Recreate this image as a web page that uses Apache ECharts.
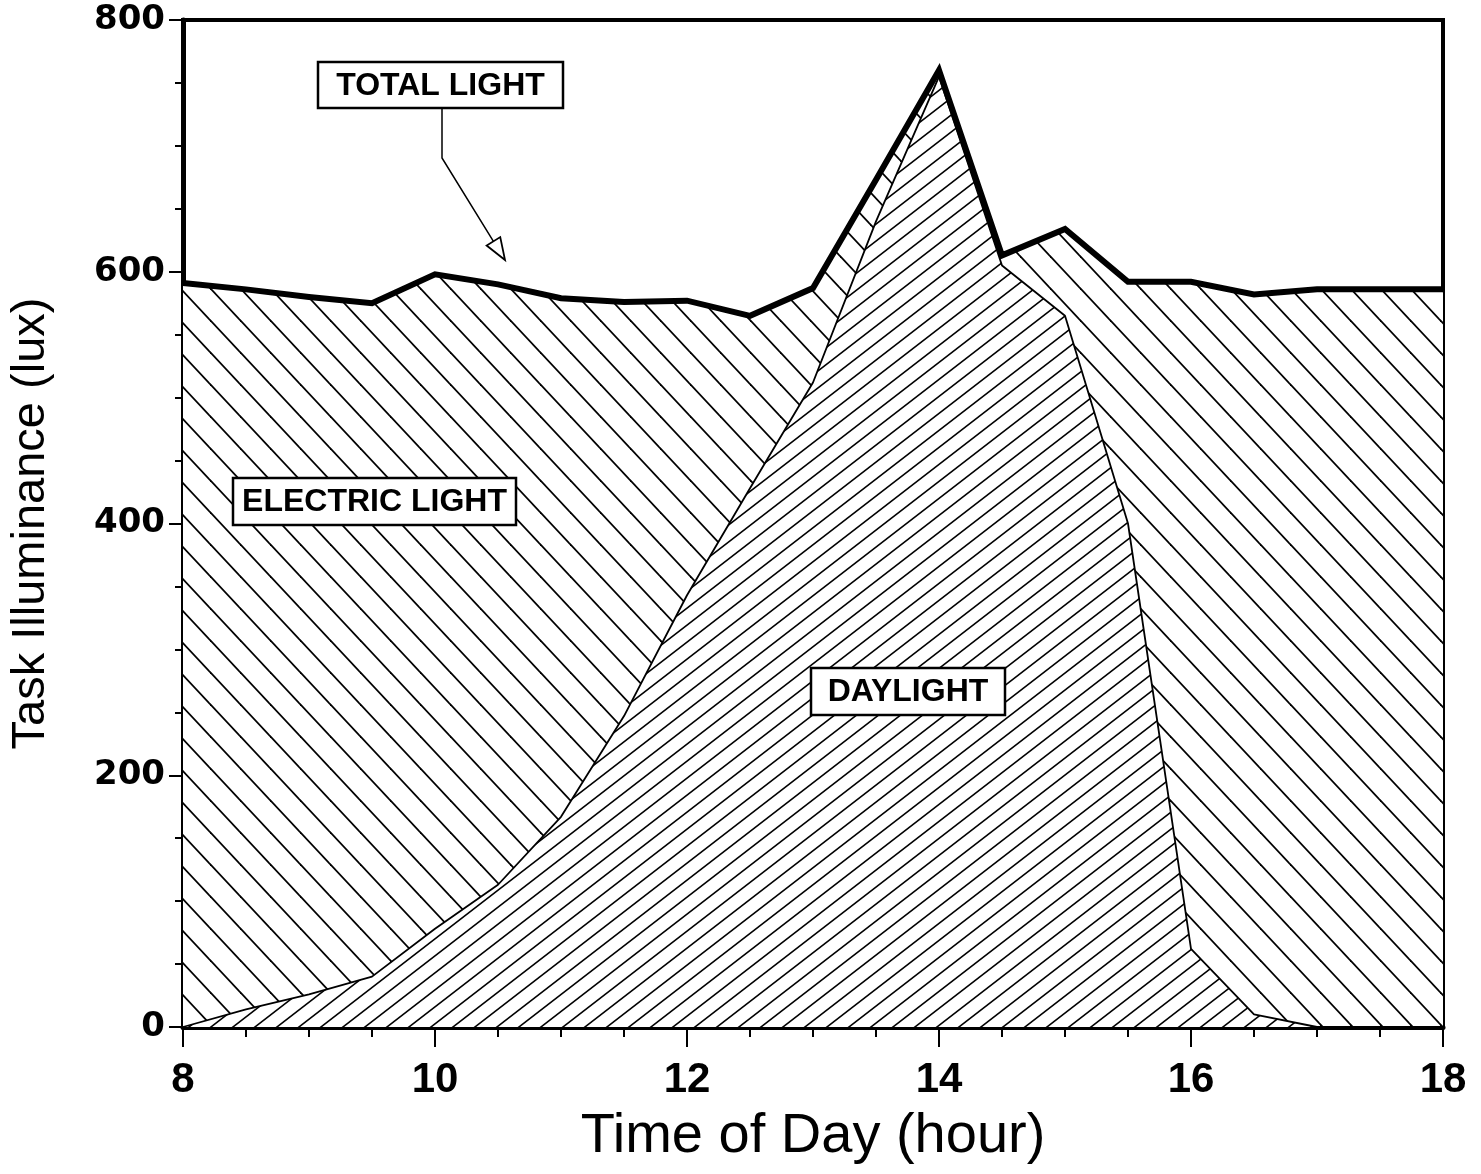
<!DOCTYPE html>
<html>
<head>
<meta charset="utf-8">
<script src="https://cdn.jsdelivr.net/npm/echarts@6/dist/echarts.min.js"></script>
<style>
html,body{margin:0;padding:0;background:#fff;}
#chart{width:1481px;height:1174px;}
</style>
</head>
<body>
<div id="chart"></div>
<script>
// ---- data ----
const hours = [8, 8.5, 9, 9.5, 10, 10.5, 11, 11.5, 12, 12.5, 13, 13.5, 14, 14.5, 15, 15.5, 16, 16.5, 17, 17.5, 18];
const totalLight = [591, 586, 580, 575, 598, 590, 579, 576, 577, 565, 587, 673, 760, 613, 634, 592, 592, 582, 586, 586, 586];
const daylight = [0, 14, 26, 40, 78, 113, 167, 247, 343, 428, 512, 640, 755, 605, 565, 400, 62, 10, 0, 0, 0];
const xTickValues = [8, 10, 12, 14, 16, 18];
const yTickValues = [0, 200, 400, 600, 800];
const labels = { total: 'TOTAL LIGHT', electric: 'ELECTRIC LIGHT', day: 'DAYLIGHT' };
const xTitle = 'Time of Day (hour)';
const yTitle = 'Task Illuminance (lux)';

// ---- hatch patterns ----
function hatch(w, h, dir, lw) {
  const c = document.createElement('canvas');
  c.width = w; c.height = h;
  const g = c.getContext('2d');
  g.fillStyle = '#fff';
  g.fillRect(0, 0, w, h);
  g.strokeStyle = '#000';
  g.lineWidth = lw;
  for (let k = -1; k <= 1; k++) {
    g.beginPath();
    if (dir === 'back') { // "\"
      g.moveTo(k * w - w, -h);
      g.lineTo(k * w + 2 * w, 2 * h);
    } else { // "/"
      g.moveTo(k * w - w, 2 * h);
      g.lineTo(k * w + 2 * w, -h);
    }
    g.stroke();
  }
  return { image: c, repeat: 'repeat' };
}
const electricPattern = hatch(30, 32, 'back', 1.8);
const dayPattern = hatch(22, 17, 'fwd', 1.6);

const pair = (arr) => hours.map((h, i) => [h, arr[i]]);

const GL = 183, GT = 20, GW = 1260, GH = 1007;

function box(x, y, w, h, text) {
  return [
    { type: 'rect', z: 100, shape: { x: x, y: y, width: w, height: h },
      style: { fill: '#fff', stroke: '#000', lineWidth: 2.5 } },
    { type: 'text', z: 101, x: x + w / 2, y: y + h / 2 + 1,
      style: { text: text, fill: '#000', font: 'bold 32px "Liberation Sans", Arial, sans-serif',
               textAlign: 'center', textVerticalAlign: 'middle' } }
  ];
}

const tip = [505, 260], from = [442, 158];
const dx = tip[0] - from[0], dy = tip[1] - from[1];
const L = Math.sqrt(dx * dx + dy * dy);
const ux = dx / L, uy = dy / L;
const bx = tip[0] - 22 * ux, by = tip[1] - 22 * uy;
const px = -uy, py = ux;

const chart = echarts.init(document.getElementById('chart'), null, { renderer: 'canvas' });
chart.setOption({
  animation: false,
  backgroundColor: '#fff',
  grid: { left: GL, top: GT, width: GW, height: GH, show: true, borderColor: '#000', borderWidth: 4, backgroundColor: '#fff' },
  xAxis: {
    type: 'value', min: 8, max: 18, interval: 2,
    name: xTitle, nameLocation: 'middle', nameGap: 82,
    nameTextStyle: { fontSize: 56, color: '#000', fontFamily: '"Liberation Sans Narrow", "Liberation Sans", Arial, sans-serif' },
    axisLine: { show: true, onZero: false, lineStyle: { color: '#000', width: 5 } },
    axisTick: { show: true, inside: false, length: 20, lineStyle: { color: '#000', width: 2 } },
    minorTick: { show: true, splitNumber: 4, length: 10, lineStyle: { color: '#000', width: 2 } },
    splitLine: { show: false },
    axisLabel: {
      margin: 32, color: '#000', fontSize: 42, fontWeight: 'bold',
      fontFamily: '"Liberation Sans Narrow", "Liberation Sans", Arial, sans-serif',
      formatter: (v) => xTickValues.includes(v) ? String(v) : ''
    }
  },
  yAxis: {
    type: 'value', min: 0, max: 800, interval: 200,
    name: yTitle, nameLocation: 'middle', nameGap: 128, nameRotate: 90,
    nameTextStyle: { fontSize: 47, color: '#000', fontFamily: '"Liberation Sans Narrow", "Liberation Sans", Arial, sans-serif' },
    axisLine: { show: true, onZero: false, lineStyle: { color: '#000', width: 5 } },
    axisTick: { show: true, inside: false, length: 14, lineStyle: { color: '#000', width: 2 } },
    minorTick: { show: true, splitNumber: 4, length: 8, lineStyle: { color: '#000', width: 2 } },
    splitLine: { show: false },
    axisLabel: {
      margin: 18, color: '#000', fontSize: 34, fontWeight: 'bold',
      fontFamily: '"DejaVu Sans", sans-serif',
      formatter: (v) => yTickValues.includes(v) ? String(v) : ''
    }
  },
  series: [
    {
      name: 'Total (electric hatch)', type: 'line', data: pair(totalLight),
      symbol: 'none', z: 1,
      lineStyle: { width: 0, opacity: 0 },
      areaStyle: { color: electricPattern, opacity: 1 }
    },
    {
      name: 'Daylight', type: 'line', data: pair(daylight),
      symbol: 'none', z: 2,
      lineStyle: { width: 1.8, color: '#000' },
      areaStyle: { color: dayPattern, opacity: 1 }
    },
    {
      name: 'Total light', type: 'line', data: pair(totalLight),
      symbol: 'none', z: 3,
      lineStyle: { width: 6, color: '#000', join: 'miter', cap: 'butt' }
    }
  ],
  graphic: [].concat(
    box(318, 62, 245, 46, labels.total),
    box(233, 478, 283, 47, labels.electric),
    box(811, 668, 194, 47, labels.day),
    [
      { type: 'polyline', z: 100, shape: { points: [[442, 108], from, [bx, by]] },
        style: { stroke: '#000', lineWidth: 1.5, fill: null } },
      { type: 'polygon', z: 100, shape: { points: [tip, [bx + 8 * px, by + 8 * py], [bx - 8 * px, by - 8 * py]] },
        style: { stroke: '#000', lineWidth: 1.8, fill: '#fff' } }
    ]
  )
});
</script>
</body>
</html>
